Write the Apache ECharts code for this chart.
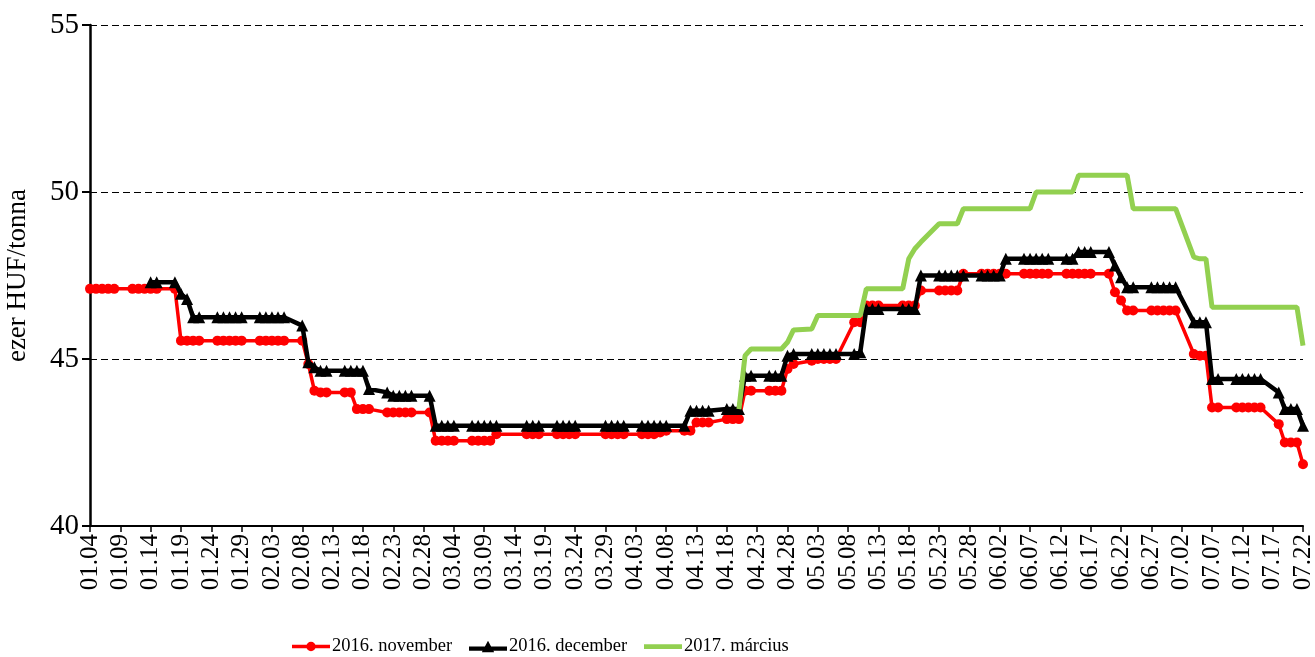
<!DOCTYPE html>
<html>
<head>
<meta charset="utf-8">
<script src="https://cdn.jsdelivr.net/npm/echarts@6/dist/echarts.min.js"></script>
<style>
html,body{margin:0;padding:0;background:#fff;}
#chart{width:1315px;height:657px;}
</style>
</head>
<body>
<div id="chart"></div>
<script>
// Calendar days from 2016.01.04 to 2016.07.22 (category axis, one per day)
const startDay = { y: 2016, m: 0, d: 4 };
const dayCount = 201;
const categories = [];
for (let i = 0; i < dayCount; i++) {
  const dt = new Date(Date.UTC(startDay.y, startDay.m, startDay.d + i));
  const mm = String(dt.getUTCMonth() + 1).padStart(2, '0');
  const dd = String(dt.getUTCDate()).padStart(2, '0');
  categories.push(mm + '.' + dd);
}

const _ = null;
const seriesNames = ['2016. november', '2016. december', '2017. március'];

// one row per week: Mon..Sun (weekends / holidays = null)
const nov2016 = [
  47.1,47.1,47.1,47.1,47.1,_,_,
  47.1,47.1,47.1,47.1,47.1,_,_,
  47.1,45.55,45.55,45.55,45.55,_,_,
  45.55,45.55,45.55,45.55,45.55,_,_,
  45.55,45.55,45.55,45.55,45.55,_,_,
  45.55,44.85,44.05,44.0,44.0,_,_,
  44.0,44.0,43.5,43.5,43.5,_,_,
  43.4,43.4,43.4,43.4,43.4,_,_,
  43.4,42.55,42.55,42.55,42.55,_,_,
  42.55,42.55,42.55,42.55,42.75,_,_,
  _,_,42.75,42.75,42.75,_,_,
  42.75,42.75,42.75,42.75,_,_,_,
  _,42.75,42.75,42.75,42.75,_,_,
  42.75,42.75,42.75,42.8,42.85,_,_,
  42.85,42.85,43.1,43.1,43.1,_,_,
  43.2,43.2,43.2,44.05,44.05,_,_,
  44.05,44.05,44.05,44.7,44.85,_,_,
  44.95,45.0,45.0,45.0,45.0,_,_,
  46.1,46.1,46.6,46.6,46.6,_,_,
  _,46.6,46.6,46.6,47.05,_,_,
  47.05,47.05,47.05,47.05,47.55,_,_,
  47.55,47.55,47.55,47.55,47.55,_,_,
  47.55,47.55,47.55,47.55,47.55,_,_,
  47.55,47.55,47.55,47.55,47.55,_,_,
  47.55,47.0,46.75,46.45,46.45,_,_,
  46.45,46.45,46.45,46.45,46.45,_,_,
  45.15,45.1,45.1,43.55,43.55,_,_,
  43.55,43.55,43.55,43.55,43.55,_,_,
  43.05,42.5,42.5,42.5,41.85
];

const dec2016 = [
  _,_,_,_,_,_,_,
  _,_,_,47.3,47.3,_,_,
  47.3,46.95,46.8,46.25,46.25,_,_,
  46.25,46.25,46.25,46.25,46.25,_,_,
  46.25,46.25,46.25,46.25,46.25,_,_,
  46.0,44.9,44.75,44.65,44.65,_,_,
  44.65,44.65,44.65,44.65,44.1,_,_,
  44.0,43.9,43.9,43.9,43.9,_,_,
  43.9,43.0,43.0,43.0,43.0,_,_,
  43.0,43.0,43.0,43.0,43.0,_,_,
  _,_,43.0,43.0,43.0,_,_,
  43.0,43.0,43.0,43.0,_,_,_,
  _,43.0,43.0,43.0,43.0,_,_,
  43.0,43.0,43.0,43.0,43.0,_,_,
  43.0,43.45,43.45,43.45,43.45,_,_,
  43.5,43.5,43.5,44.5,44.5,_,_,
  44.5,44.5,44.5,45.1,45.15,_,_,
  45.15,45.15,45.15,45.15,45.15,_,_,
  45.15,45.2,46.5,46.5,46.5,_,_,
  _,46.5,46.5,46.5,47.5,_,_,
  47.5,47.5,47.5,47.5,47.5,_,_,
  47.5,47.5,47.5,47.5,48.0,_,_,
  48.0,48.0,48.0,48.0,48.0,_,_,
  48.0,48.0,48.2,48.2,48.2,_,_,
  48.2,47.8,47.45,47.15,47.15,_,_,
  47.15,47.15,47.15,47.15,47.15,_,_,
  46.1,46.1,46.1,44.4,44.4,_,_,
  44.4,44.4,44.4,44.4,44.4,_,_,
  44.0,43.5,43.5,43.5,43.0
];

const mar2017 = [
  _,_,_,_,_,_,_,
  _,_,_,_,_,_,_,
  _,_,_,_,_,_,_,
  _,_,_,_,_,_,_,
  _,_,_,_,_,_,_,
  _,_,_,_,_,_,_,
  _,_,_,_,_,_,_,
  _,_,_,_,_,_,_,
  _,_,_,_,_,_,_,
  _,_,_,_,_,_,_,
  _,_,_,_,_,_,_,
  _,_,_,_,_,_,_,
  _,_,_,_,_,_,_,
  _,_,_,_,_,_,_,
  _,_,_,_,_,_,_,
  _,_,43.5,45.1,45.3,_,_,
  45.3,45.3,45.3,45.5,45.87,_,_,
  45.9,46.3,46.3,46.3,46.3,_,_,
  46.3,46.3,47.1,47.1,47.1,_,_,
  _,47.1,48.0,48.3,48.5,_,_,
  49.05,49.05,49.05,49.05,49.5,_,_,
  49.5,49.5,49.5,49.5,49.5,_,_,
  49.5,49.5,50.0,50.0,50.0,_,_,
  50.0,50.0,50.5,50.5,50.5,_,_,
  50.5,50.5,50.5,50.5,49.5,_,_,
  49.5,49.5,49.5,49.5,49.5,_,_,
  48.05,48.0,48.0,46.55,46.55,_,_,
  46.55,46.55,46.55,46.55,46.55,_,_,
  46.55,46.55,46.55,46.55,45.4
];

const yTicks = { min: 40, max: 55, interval: 5 };
const font = "'Liberation Serif', 'Times New Roman', serif";

// legend icons: line + marker
const iconNov = 'path://M0,5H40V8.5H0Z M15,6.75A5,5 0 1,1 25,6.75A5,5 0 1,1 15,6.75Z';
const iconDec = 'path://M0,7H40V11.5H0Z M20,1L26.5,13L13.5,13Z';
const iconMar = 'path://M0,0H40V5H0Z';

function legendAt(left, name, icon, h) {
  return {
    left: left, top: 632,
    itemWidth: 38, itemHeight: h, itemGap: 0,
    textStyle: { fontFamily: font, fontSize: 18.5, color: '#000', padding: [0, 0, 0, -3] },
    data: [{ name: name, icon: icon }]
  };
}

const chart = echarts.init(document.getElementById('chart'), null, { renderer: 'canvas' });
chart.setOption({
  animation: false,
  backgroundColor: '#fff',
  grid: { left: 90, right: 12, top: 25, bottom: 131, containLabel: false, outerBoundsMode: 'none' },
  legend: [
    legendAt(287, seriesNames[0], iconNov, 12),
    legendAt(464, seriesNames[1], iconDec, 14),
    legendAt(639, seriesNames[2], iconMar, 6)
  ],
  xAxis: {
    type: 'category',
    data: categories,
    boundaryGap: false,
    axisLine: { lineStyle: { color: '#000', width: 2 } },
    axisTick: { show: true, interval: 4, length: 6, lineStyle: { color: '#000', width: 1.5 } },
    axisLabel: { interval: 4, rotate: 90, fontFamily: font, fontSize: 25, color: '#000', margin: 8 },
    splitLine: { show: false }
  },
  yAxis: {
    type: 'value',
    min: yTicks.min, max: yTicks.max, interval: yTicks.interval,
    name: 'ezer HUF/tonna',
    nameLocation: 'middle',
    nameRotate: 90,
    nameGap: 59,
    nameTextStyle: { fontFamily: font, fontSize: 27, color: '#000' },
    axisLine: { show: true, lineStyle: { color: '#000', width: 2.5 } },
    axisTick: { show: true, length: 8, lineStyle: { color: '#000', width: 2 } },
    axisLabel: { fontFamily: font, fontSize: 29, color: '#000', margin: 11 },
    splitLine: { show: true, lineStyle: { color: '#000', type: [7, 4], width: 1.2 } }
  },
  series: [
    {
      name: seriesNames[0], type: 'line', data: nov2016, connectNulls: true,
      symbol: 'circle', symbolSize: 10, showSymbol: true, showAllSymbol: true,
      lineStyle: { color: '#FF0000', width: 3.5 },
      itemStyle: { color: '#FF0000' }, z: 2
    },
    {
      name: seriesNames[1], type: 'line', data: dec2016, connectNulls: true,
      symbol: 'triangle', symbolSize: 12, showSymbol: true, showAllSymbol: true,
      lineStyle: { color: '#000000', width: 4.5 },
      itemStyle: { color: '#000000' }, z: 3
    },
    {
      name: seriesNames[2], type: 'line', data: mar2017, connectNulls: true,
      symbol: 'none',
      lineStyle: { color: '#92D050', width: 5 },
      itemStyle: { color: '#92D050' }, z: 4
    }
  ]
});
</script>
</body>
</html>
